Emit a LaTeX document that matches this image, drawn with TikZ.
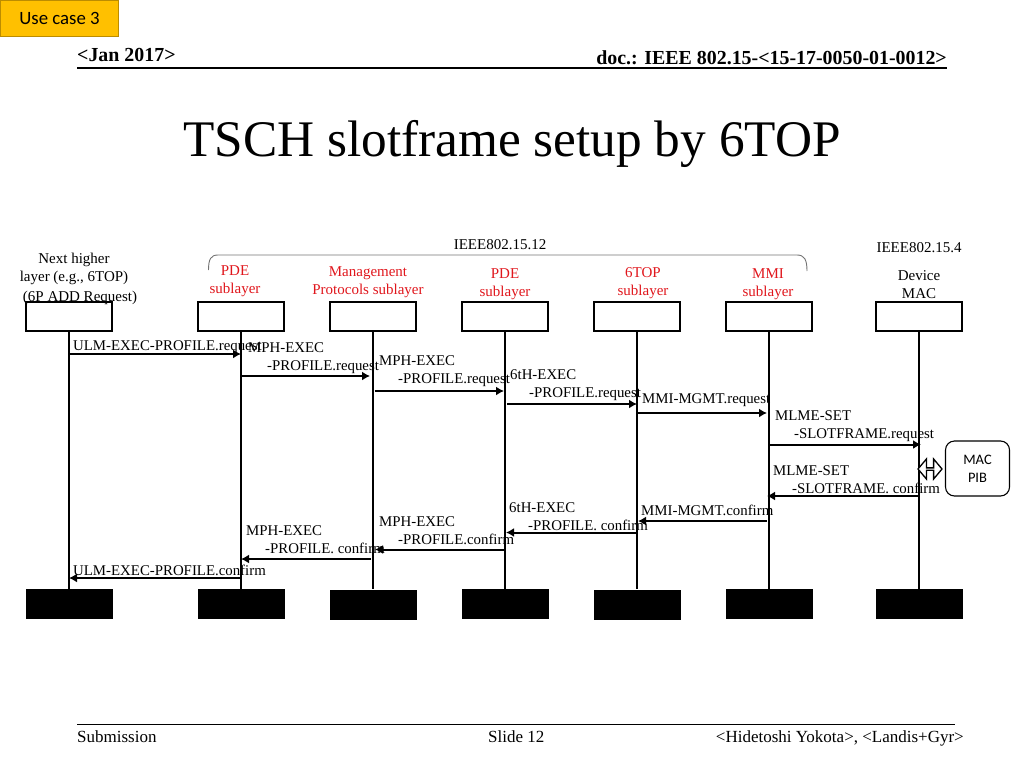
\documentclass[tikz,border=0pt]{standalone}
\usepackage{fontspec}
\setmainfont{Liberation Serif}
\newfontfamily\carlito{Carlito}
\usetikzlibrary{arrows.meta,positioning,shapes.arrows}
\definecolor{tagfill}{HTML}{FFC000}
\definecolor{tagline}{HTML}{BC8C00}
\definecolor{layerred}{HTML}{E0161C}
\tikzset{
	entity/.style={draw,line width=1.2pt,minimum width=86pt,minimum height=29pt,inner sep=0pt},
	endbox/.style={fill=black,minimum width=87pt,minimum height=30pt,inner sep=0pt},
	lifeline/.style={line width=2.6pt},
	msg/.style={line width=2pt,-{Latex[length=8pt,width=9pt]}},
	msgtext/.style={anchor=west,inner sep=0pt,align=left,font=\fontsize{14.85}{18}\selectfont},
	layertext/.style={inner sep=0pt,align=center,font=\fontsize{15}{18}\selectfont},
	sublayer/.style={layertext,text=layerred},
	foot/.style={inner sep=0pt,font=\fontsize{17}{18}\selectfont},
	head/.style={inner sep=0pt,font=\fontsize{19.9}{22}\selectfont\bfseries}
}
\begin{document}
\begin{tikzpicture}[x=1pt,y=-1pt,node distance=132pt,on grid]
	\useasboundingbox (0,0) rectangle (1024,768);
	% page furniture
	\node[draw=tagline,fill=tagfill,line width=1pt,minimum width=118pt,minimum height=36pt,inner sep=0pt,font=\carlito\fontsize{18.8}{20}\selectfont] (tag) at (59.5,18.5) {Use case 3};
	\node[head,anchor=base west] (date) at (77,62) {<Jan 2017>};
	\node[head,anchor=base east] (docid) at (947,64) {doc.: IEEE 802.15-<15-17-0050-01-0012>};
	\coordinate (headl) at (77,68);
	\coordinate (headr) at (947,68);
	\draw[line width=1.3pt] (headl) -- (headr);
	\node[inner sep=0pt,anchor=base,font=\fontsize{51.3}{60}\selectfont] (title) at (512,156) {TSCH slotframe setup by 6TOP};
	\coordinate (footl) at (77,724.5);
	\coordinate (footr) at (955,724.5);
	\draw[line width=1.3pt] (footl) -- (footr);
	\node[foot,anchor=base west] (subm) at (77,742) {Submission};
	\node[foot,anchor=base west] (slide) at (488,742) {Slide 12};
	\node[foot,anchor=base east] (names) at (964,742) {<Hidetoshi Yokota>, <Landis+Gyr>};

	% entities
	\node[entity] (ulm) at (69,316.5) {};
	\node[entity,right=172pt of ulm] (pde) {};
	\node[entity,right of=pde] (mgmt) {};
	\node[entity,right of=mgmt] (pdeb) {};
	\node[entity,right of=pdeb] (top) {};
	\node[entity,right of=top] (mmi) {};
	\node[entity,right=150pt of mmi] (mac) {};
	\node[endbox,below=287.5pt of ulm] (ulmend) {};
	\node[endbox,below=287.5pt of pde] (pdeend) {};
	\node[endbox,below=288pt of mgmt] (mgmtend) {};
	\node[endbox,below=287.5pt of pdeb] (pdebend) {};
	\node[endbox,below=288pt of top] (topend) {};
	\node[endbox,below=287.5pt of mmi] (mmiend) {};
	\node[endbox,below=287.5pt of mac] (macend) {};
	\path[lifeline] (ulm) edge (ulmend)
		(pde) edge (pdeend)
		(mgmt) edge (mgmtend)
		(pdeb) edge (pdebend)
		(top) edge (topend)
		(mmi) edge (mmiend)
		(mac) edge (macend);

	% layer captions
	\node[layertext] (next) at (74,269) {Next higher\\layer (e.g., 6TOP)};
	\node[layertext] (sixp) at (80,298) {(6P ADD Request)};
	\node[layertext] (std12) at (500,245) {IEEE802.15.12};
	\node[layertext] (std4) at (919,248) {IEEE802.15.4};
	\node[sublayer] (pdecap) at (235,281.5) {PDE\\sublayer};
	\node[sublayer] (mgmtcap) at (368,282.5) {Management\\Protocols sublayer};
	\node[sublayer] (pdebcap) at (505,284.5) {PDE\\sublayer};
	\node[sublayer] (topcap) at (643,283) {6TOP\\sublayer};
	\node[sublayer] (mmicap) at (768,284.5) {MMI\\sublayer};
	\node[layertext] (maccap) at (919,284.5) {Device\\MAC};
	\coordinate (bracel) at (208.5,270);
	\coordinate (bracer) at (807,271);
	\draw[black!55,line width=.9pt] (bracel) .. controls (208.5,259) and (211,255) .. (218,255) -- (797,255) .. controls (804,255) and (807,259) .. (bracer);

	% messages
	\coordinate (m1a) at (69,354);
	\coordinate (m1b) at (241,354);
	\coordinate (m2a) at (241,376);
	\coordinate (m2b) at (370,376);
	\coordinate (m3a) at (374.5,391);
	\coordinate (m3b) at (504,391);
	\coordinate (m4a) at (507,404);
	\coordinate (m4b) at (637,404);
	\coordinate (m5a) at (637,413);
	\coordinate (m5b) at (767,413);
	\coordinate (m6a) at (769,444.5);
	\coordinate (m6b) at (921,444.5);
	\coordinate (m7a) at (919,496);
	\coordinate (m7b) at (767,496);
	\coordinate (m8a) at (767,521);
	\coordinate (m8b) at (638,521);
	\coordinate (m9a) at (636,532.5);
	\coordinate (m9b) at (506,532.5);
	\coordinate (m10a) at (504,549.5);
	\coordinate (m10b) at (375,549.5);
	\coordinate (m11a) at (371,559);
	\coordinate (m11b) at (241,559);
	\coordinate (m12a) at (240,578);
	\coordinate (m12b) at (69,578);
	\path[msg] (m1a) edge (m1b)
		(m2a) edge (m2b)
		(m3a) edge (m3b)
		(m4a) edge (m4b)
		(m5a) edge (m5b)
		(m6a) edge (m6b)
		(m7a) edge (m7b)
		(m8a) edge (m8b)
		(m9a) edge (m9b)
		(m10a) edge (m10b)
		(m11a) edge (m11b)
		(m12a) edge (m12b);
	\node[msgtext] (l1) at (73,347) {ULM-EXEC-PROFILE.request};
	\node[msgtext] (l2) at (248,358.5) {MPH-EXEC\\\hspace*{19pt}-PROFILE.request};
	\node[msgtext] (l3) at (379,371.5) {MPH-EXEC\\\hspace*{19pt}-PROFILE.request};
	\node[msgtext] (l4) at (510,385.5) {6tH-EXEC\\\hspace*{19pt}-PROFILE.request};
	\node[msgtext] (l5) at (642,400.5) {MMI-MGMT.request};
	\node[msgtext] (l6) at (775,426) {MLME-SET\\\hspace*{19pt}-SLOTFRAME.request};
	\node[msgtext] (l7) at (773,479.5) {MLME-SET\\\hspace*{19pt}-SLOTFRAME. confirm};
	\node[msgtext] (l8) at (641,510) {MMI-MGMT.confirm};
	\node[msgtext] (l9) at (509,516.5) {6tH-EXEC\\\hspace*{19pt}-PROFILE. confirm};
	\node[msgtext] (l10) at (379,531) {MPH-EXEC\\\hspace*{19pt}-PROFILE.confirm};
	\node[msgtext] (l11) at (246,539.5) {MPH-EXEC\\\hspace*{19pt}-PROFILE. confirm};
	\node[msgtext] (l12) at (73,570.5) {ULM-EXEC-PROFILE.confirm};

	% MAC PIB
	\node[draw,line width=1.1pt,rounded corners=9pt,minimum width=64pt,minimum height=55pt,inner sep=0pt,align=center,font=\carlito\fontsize{14.5}{18}\selectfont] (pib) at (977.5,468.5) {MAC\\PIB};
	\node[draw,fill=white,line width=1.3pt,double arrow,double arrow tip angle=100,double arrow head extend=5pt,minimum width=20pt,minimum height=24pt,inner sep=0pt] (pibarrow) at (930,469) {};
\end{tikzpicture}
\end{document}
